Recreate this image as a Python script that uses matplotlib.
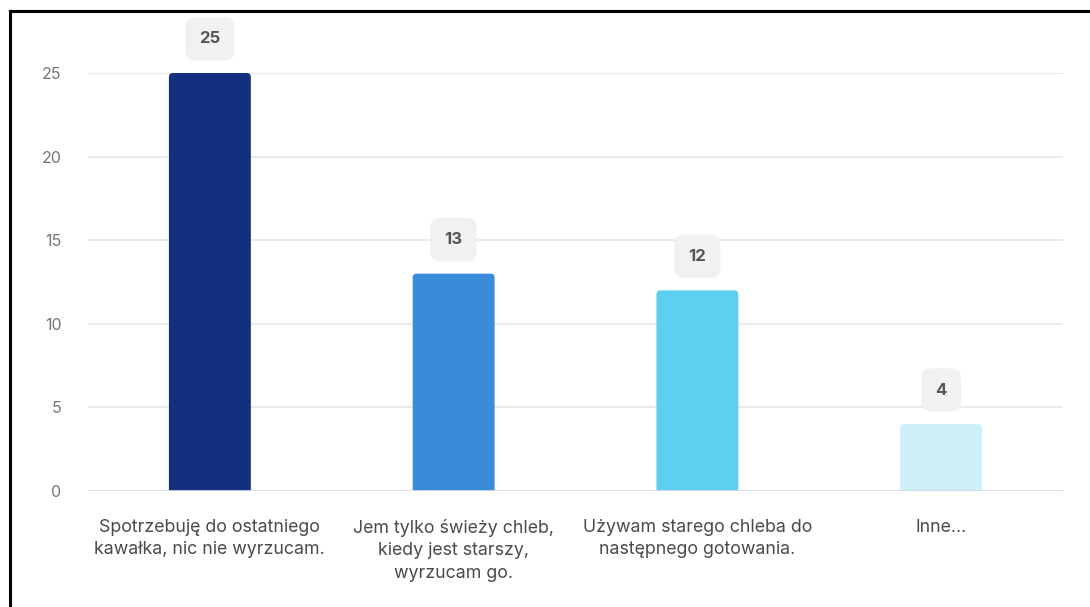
import matplotlib
matplotlib.use("Agg")
import matplotlib.pyplot as plt
from matplotlib.patches import FancyBboxPatch

categories = ["Spotrzebuję do ostatniego\nkawałka, nic nie wyrzucam.",
              "Jem tylko świeży chleb,\nkiedy jest starszy,\nwyrzucam go.",
              "Używam starego chleba do\nnastępnego gotowania.",
              "Inne..."]
values = [25, 13, 12, 4]
colors = ["#12307f", "#3a8bd8", "#5ecfef", "#cdf0f8"]
yticks = [0, 5, 10, 15, 20, 25]

plt.rcParams['font.family'] = ['Inter', 'DejaVu Sans']

W, H = 1090, 607
fig = plt.figure(figsize=(W/100, H/100), dpi=100)
left, right, bottom, top = 88, 1063, 491, 73
ax = fig.add_axes([left/W, (H-bottom)/H, (right-left)/W, (bottom-top)/H])

x = list(range(len(values)))
bars = ax.bar(x, values, width=0.336, color=colors)
ax.set_xlim(-0.5, len(values)-0.5)
ax.set_ylim(0, 25)

# rounded tops
xpp = (len(values)) / (right-left)
ypp = 25 / (bottom-top)
aspect = ypp / xpp
for b, c in zip(bars, colors):
    b.set_visible(False)
    p = FancyBboxPatch((b.get_x(), -0.5), b.get_width(), b.get_height()+0.5,
                       boxstyle="round,pad=0,rounding_size=%f" % (4*xpp),
                       mutation_aspect=aspect, facecolor=c, edgecolor='none',
                       zorder=3)
    ax.add_patch(p)

ax.set_yticks(yticks)
ax.set_yticklabels([str(t) for t in yticks])
ax.set_xticks(x)
ax.set_xticklabels(categories, fontsize=12.8, color="#4a4a4a", linespacing=1.42)
ax.tick_params(axis='x', length=0, pad=20)
ax.tick_params(axis='y', length=0, pad=19, labelsize=11.5, labelcolor="#757575")
for s in ax.spines.values():
    s.set_visible(False)
ax.grid(axis='y', color="#e6e6e6", linewidth=1.2, zorder=0)
ax.axhline(0, color="#d3dbea", linewidth=2, zorder=4)
ax.set_axisbelow(True)

for xi, v in zip(x, values):
    ax.annotate(str(v), (xi, v), xytext=(0, 24.5), textcoords='offset points',
                ha='center', va='center', fontsize=12, fontweight='bold',
                color="#555555", annotation_clip=False,
                bbox=dict(boxstyle="round,pad=0.85,rounding_size=0.6",
                          facecolor="#f0f1f1", edgecolor='none'))

# outer frame (top and left)
fig.add_artist(plt.Line2D([10/W, 1.0], [1-11/H, 1-11/H], color='black',
                          linewidth=2.2, transform=fig.transFigure))
fig.add_artist(plt.Line2D([10/W, 10/W], [0, 1-11/H], color='black',
                          linewidth=2.2, transform=fig.transFigure))

fig.savefig("out.png", dpi=100)
